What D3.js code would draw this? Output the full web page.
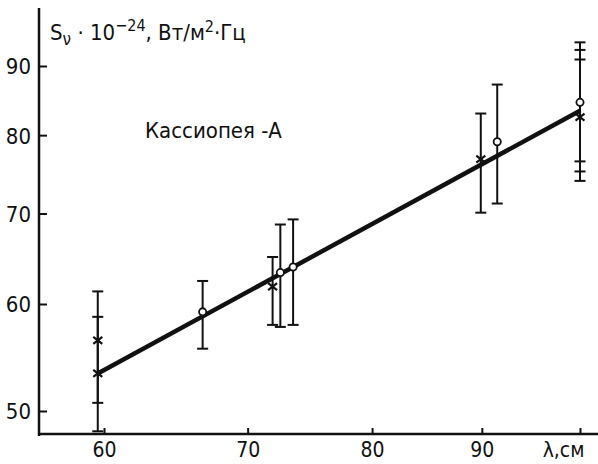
<!DOCTYPE html>
<html>
<head>
<meta charset="utf-8">
<script src="https://cdn.jsdelivr.net/npm/d3@7"></script>
<style>
  body { margin: 0; background: #fff; }
  svg text { font-family: "DejaVu Sans Condensed", "DejaVu Sans", sans-serif; font-stretch: condensed; fill: #111; }
</style>
</head>
<body>
<div id="chart"></div>
<script>
    'use strict';

    // wavelength, cm  /  flux S, 10^-24 W/(m^2 Hz)
    var circleLam = [66.7, 72.5, 73.5, 91.5, 100];
    var circleS   = [59.2, 63.3, 63.9, 79.1, 84.6];
    var circleLo  = [55.6, 57.7, 57.9, 71.2, 76.5];
    var circleHi  = [62.4, 68.7, 69.3, 87.2, 93.7];

    var crossLam = [59.6, 59.6, 71.9, 89.9, 100];
    var crossS   = [56.4, 53.3, 61.8, 76.8, 82.5];
    var crossLo  = [50.7, 48.3, 57.9, 70.1, 74.0];
    var crossHi  = [61.3, 58.7, 65.0, 83.0, 91.0];

    // bar with no visible marker
    var extraLam = [100];
    var extraLo  = [75.2];
    var extraHi  = [92.5];

    var fitLam = [59.6, 100];
    var fitS   = [53.3, 83.4];

    var xTicks = [60, 70, 80, 90, 100];
    var xTickLabels = ['60', '70', '80', '90', 'λ,см'];
    var yTicks = [50, 60, 70, 80, 90];

    var width = 598, height = 464;

    var svg = d3.select('#chart').append('svg')
        .attr('width', width).attr('height', height);

    var x = d3.scaleLog().domain([60, 100]).range([104, 580]);
    var y = d3.scaleLog().domain([50, 90]).range([411, 66]);

    var axisY = 434, axisX = 39;

    // axes
    svg.append('line')
        .attr('x1', axisX).attr('x2', axisX).attr('y1', 8).attr('y2', axisY + 2)
        .attr('stroke', '#111').attr('stroke-width', 2.5);
    svg.append('line')
        .attr('x1', axisX - 1).attr('x2', 598).attr('y1', axisY).attr('y2', axisY)
        .attr('stroke', '#111').attr('stroke-width', 2.5);

    var gx = svg.append('g').attr('transform', 'translate(0,' + axisY + ')')
        .call(d3.axisBottom(x).tickValues(xTicks).tickSize(-6).tickPadding(0)
            .tickFormat(function (d, i) { return xTickLabels[i]; }));
    gx.select('.domain').remove();
    gx.selectAll('.tick line').attr('stroke', '#111').attr('stroke-width', 2);
    gx.selectAll('.tick text')
        .attr('y', 23).attr('dy', 0)
        .style('font-size', '21px');
    gx.selectAll('.tick text').filter(function (d) { return d === 100; })
        .attr('text-anchor', 'end').attr('x', 4);

    var gy = svg.append('g').attr('transform', 'translate(' + axisX + ',0)')
        .call(d3.axisLeft(y).tickValues(yTicks).tickSize(-8).tickPadding(0)
            .tickFormat(d3.format('d')));
    gy.select('.domain').remove();
    gy.selectAll('.tick line').attr('stroke', '#111').attr('stroke-width', 2);
    gy.selectAll('.tick text')
        .attr('x', -8).attr('dy', '0.36em')
        .style('font-size', '22px');

    // fitted line
    var line = d3.line()
        .x(function (d) { return x(d[0]); })
        .y(function (d) { return y(d[1]); });
    svg.append('path')
        .datum(d3.zip(fitLam, fitS))
        .attr('d', line)
        .attr('fill', 'none').attr('stroke', '#111').attr('stroke-width', 4.5);

    // error bars
    function errorBars(lam, lo, hi) {
        var g = svg.append('g').attr('stroke', '#111').attr('stroke-width', 2);
        var rows = d3.zip(lam, lo, hi);
        g.selectAll('line.v').data(rows).enter().append('line')
            .attr('x1', function (d) { return x(d[0]); })
            .attr('x2', function (d) { return x(d[0]); })
            .attr('y1', function (d) { return y(d[1]); })
            .attr('y2', function (d) { return y(d[2]); });
        [1, 2].forEach(function (k) {
            g.selectAll('line.c' + k).data(rows).enter().append('line')
                .attr('x1', function (d) { return x(d[0]) - 5.5; })
                .attr('x2', function (d) { return x(d[0]) + 5.5; })
                .attr('y1', function (d) { return y(d[k]); })
                .attr('y2', function (d) { return y(d[k]); });
        });
    }
    errorBars(crossLam, crossLo, crossHi);
    errorBars(circleLam, circleLo, circleHi);
    errorBars(extraLam, extraLo, extraHi);

    // crosses
    svg.append('g').selectAll('path').data(d3.zip(crossLam, crossS)).enter().append('path')
        .attr('transform', function (d) { return 'translate(' + x(d[0]) + ',' + y(d[1]) + ')'; })
        .attr('d', 'M-4.5,-3.5L4.5,3.5M-4.5,3.5L4.5,-3.5')
        .attr('stroke', '#111').attr('stroke-width', 2.2);

    // circles
    svg.append('g').selectAll('circle').data(d3.zip(circleLam, circleS)).enter().append('circle')
        .attr('cx', function (d) { return x(d[0]); })
        .attr('cy', function (d) { return y(d[1]); })
        .attr('r', 3.6)
        .attr('fill', '#fff').attr('stroke', '#111').attr('stroke-width', 1.8);

    // axis title
    var t = svg.append('text').attr('x', 50).attr('y', 40).style('font-size', '22px');
    t.append('tspan').text('S');
    t.append('tspan').attr('dy', 5).style('font-size', '17px').text('ν');
    t.append('tspan').attr('dy', -5).text(' · 10');
    t.append('tspan').attr('dy', -9).style('font-size', '16px').text('−24');
    t.append('tspan').attr('dy', 9).text(', Вт/м');
    t.append('tspan').attr('dy', -8).style('font-size', '16px').text('2');
    t.append('tspan').attr('dy', 8).text('·Гц');

    svg.append('text').attr('x', 145).attr('y', 138)
        .style('font-size', '22px').text('Кассиопея -А');
</script>
</body>
</html>
